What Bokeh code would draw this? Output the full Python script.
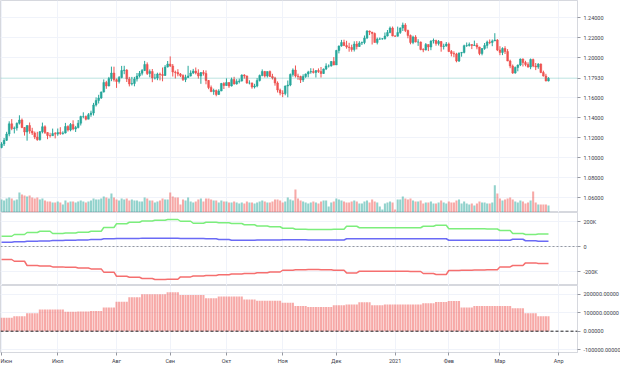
import numpy as np
import pandas as pd
from bokeh.plotting import figure
from bokeh.layouts import column
from bokeh.models import (ColumnDataSource, Range1d, LinearAxis, FixedTicker, Span,
                          NumeralTickFormatter, Grid)
from bokeh.embed import file_html
from bokeh.resources import INLINE

# ---------------- data (EUR/USD daily) ----------------
first_day = "2020-06-01"
last_day = "2021-03-26"

closes = [
    1.1135, 1.1172, 1.1235, 1.1337, 1.1290, 1.1295, 1.1343, 1.1375, 1.1300, 1.1255, 1.1320,
    1.1265, 1.1245, 1.1205, 1.1177, 1.1258, 1.1308, 1.1250, 1.1220, 1.1218, 1.1240, 1.1234,
    1.1250, 1.1240, 1.1245, 1.1310, 1.1275, 1.1330, 1.1285, 1.1300, 1.1343, 1.1410, 1.1410,
    1.1383, 1.1428, 1.1445, 1.1525, 1.1570, 1.1595, 1.1655, 1.1750, 1.1715, 1.1790, 1.1845, 1.1778,
    1.1760, 1.1800, 1.1870, 1.1875, 1.1785, 1.1735, 1.1740, 1.1785, 1.1815, 1.1842, 1.1870,
    1.1930, 1.1840, 1.1860, 1.1795, 1.1795, 1.1835, 1.1830, 1.1820, 1.1905, 1.1935,
    1.1915, 1.1855, 1.1850, 1.1835, 1.1820, 1.1780, 1.1800, 1.1815, 1.1845, 1.1865, 1.1845,
    1.1815, 1.1850, 1.1840, 1.1770, 1.1700, 1.1660, 1.1670, 1.1630, 1.1665, 1.1740, 1.1720,
    1.1750, 1.1715, 1.1780, 1.1735, 1.1760, 1.1765, 1.1825, 1.1815, 1.1745, 1.1745, 1.1705,
    1.1715, 1.1770, 1.1820, 1.1860, 1.1815, 1.1860, 1.1810, 1.1795, 1.1745, 1.1675, 1.1645,
    1.1640, 1.1715, 1.1725, 1.1830, 1.1875, 1.1815, 1.1810, 1.1775, 1.1810, 1.1835, 1.1855,
    1.1860, 1.1850, 1.1870, 1.1860, 1.1840, 1.1885, 1.1915, 1.1915, 1.1960, 1.1925,
    1.2070, 1.2115, 1.2150, 1.2120, 1.2105, 1.2100, 1.2080, 1.2135, 1.2110, 1.2145, 1.2150,
    1.2195, 1.2265, 1.2255, 1.2240, 1.2150, 1.2185, 1.2185, 1.2187, 1.2215, 1.2250, 1.2295, 1.2215,
    1.2213, 1.2250, 1.2295, 1.2325, 1.2270, 1.2220, 1.2150, 1.2205, 1.2155, 1.2155, 1.2080,
    1.2075, 1.2130, 1.2105, 1.2165, 1.2170, 1.2140, 1.2160, 1.2110, 1.2115, 1.2135,
    1.2060, 1.2040, 1.2035, 1.1965, 1.2045, 1.2050, 1.2118, 1.2120, 1.2130, 1.2120,
    1.2125, 1.2105, 1.2040, 1.2090, 1.2120, 1.2155, 1.2150, 1.2165, 1.2175, 1.2075,
    1.2050, 1.2090, 1.2060, 1.1965, 1.1915, 1.1845, 1.1900, 1.1925, 1.1985, 1.1950,
    1.1930, 1.1905, 1.1980, 1.1915, 1.1905, 1.1935, 1.1850, 1.1815, 1.1765, 1.1793,
]
opens = [1.1100] + closes[:-1]
highs = [
    1.1153, 1.1195, 1.1257, 1.1362, 1.1384, 1.1310, 1.1350, 1.1422, 1.1390, 1.1305, 1.1321,
    1.1350, 1.1297, 1.1260, 1.1257, 1.1265, 1.1349, 1.1322, 1.1253, 1.1247, 1.1289, 1.1255,
    1.1290, 1.1303, 1.1262, 1.1346, 1.1322, 1.1345, 1.1372, 1.1316, 1.1375, 1.1418, 1.1452,
    1.1420, 1.1444, 1.1468, 1.1546, 1.1601, 1.1627, 1.1660, 1.1781, 1.1767, 1.1806, 1.1909, 1.1908,
    1.1790, 1.1815, 1.1916, 1.1917, 1.1883, 1.1806, 1.1806, 1.1806, 1.1845, 1.1865, 1.1885,
    1.1966, 1.1951, 1.1881, 1.1885, 1.1837, 1.1848, 1.1849, 1.1900, 1.1924, 1.1965,
    1.2011, 1.1935, 1.1869, 1.1883, 1.1845, 1.1832, 1.1828, 1.1917, 1.1872, 1.1886, 1.1900,
    1.1882, 1.1852, 1.1873, 1.1871, 1.1775, 1.1720, 1.1688, 1.1680, 1.1683, 1.1746, 1.1754,
    1.1791, 1.1752, 1.1799, 1.1807, 1.1783, 1.1789, 1.1831, 1.1833, 1.1820, 1.1772, 1.1750,
    1.1737, 1.1794, 1.1830, 1.1881, 1.1866, 1.1860, 1.1870, 1.1837, 1.1807, 1.1761, 1.1689,
    1.1672, 1.1720, 1.1770, 1.1840, 1.1891, 1.1920, 1.1838, 1.1818, 1.1832, 1.1840, 1.1867,
    1.1893, 1.1891, 1.1871, 1.1891, 1.1905, 1.1890, 1.1942, 1.1931, 1.1965, 1.2004,
    1.2077, 1.2120, 1.2176, 1.2178, 1.2167, 1.2147, 1.2128, 1.2162, 1.2164, 1.2163, 1.2160,
    1.2220, 1.2273, 1.2269, 1.2255, 1.2250, 1.2199, 1.2200, 1.2195, 1.2250, 1.2275, 1.2310, 1.2310,
    1.2222, 1.2309, 1.2301, 1.2349, 1.2343, 1.2279, 1.2230, 1.2218, 1.2223, 1.2183, 1.2160,
    1.2093, 1.2145, 1.2130, 1.2172, 1.2190, 1.2178, 1.2175, 1.2164, 1.2138, 1.2155,
    1.2150, 1.2075, 1.2062, 1.2047, 1.2050, 1.2056, 1.2128, 1.2150, 1.2150, 1.2133,
    1.2169, 1.2145, 1.2107, 1.2093, 1.2145, 1.2169, 1.2180, 1.2180, 1.2243, 1.2184,
    1.2113, 1.2102, 1.2113, 1.2084, 1.1978, 1.1930, 1.1910, 1.1930, 1.1990, 1.1990,
    1.1967, 1.1952, 1.1990, 1.1989, 1.1945, 1.1943, 1.1940, 1.1868, 1.1837, 1.1803,
]
lows = [
    1.1092, 1.1115, 1.1165, 1.1212, 1.1273, 1.1241, 1.1269, 1.1330, 1.1293, 1.1219, 1.1168,
    1.1238, 1.1225, 1.1184, 1.1168, 1.1170, 1.1241, 1.1235, 1.1183, 1.1199, 1.1215, 1.1191,
    1.1217, 1.1226, 1.1228, 1.1240, 1.1260, 1.1262, 1.1272, 1.1255, 1.1291, 1.1320, 1.1392,
    1.1371, 1.1383, 1.1407, 1.1420, 1.1510, 1.1540, 1.1586, 1.1650, 1.1687, 1.1712, 1.1763, 1.1759,
    1.1696, 1.1740, 1.1792, 1.1833, 1.1755, 1.1711, 1.1720, 1.1712, 1.1760, 1.1800, 1.1821,
    1.1864, 1.1825, 1.1802, 1.1753, 1.1780, 1.1773, 1.1771, 1.1762, 1.1816, 1.1900,
    1.1905, 1.1810, 1.1790, 1.1812, 1.1804, 1.1765, 1.1754, 1.1795, 1.1810, 1.1834, 1.1831,
    1.1789, 1.1737, 1.1819, 1.1732, 1.1683, 1.1653, 1.1627, 1.1612, 1.1627, 1.1663, 1.1685,
    1.1716, 1.1696, 1.1710, 1.1730, 1.1729, 1.1741, 1.1760, 1.1789, 1.1737, 1.1731, 1.1688,
    1.1690, 1.1702, 1.1760, 1.1812, 1.1800, 1.1800, 1.1806, 1.1780, 1.1718, 1.1650, 1.1622,
    1.1603, 1.1622, 1.1602, 1.1713, 1.1809, 1.1800, 1.1777, 1.1745, 1.1755, 1.1796, 1.1802,
    1.1838, 1.1840, 1.1800, 1.1846, 1.1800, 1.1835, 1.1874, 1.1900, 1.1909, 1.1923,
    1.1925, 1.2041, 1.2108, 1.2114, 1.2088, 1.2058, 1.2058, 1.2060, 1.2081, 1.2105, 1.2125,
    1.2133, 1.2184, 1.2224, 1.2130, 1.2152, 1.2131, 1.2176, 1.2178, 1.2180, 1.2210, 1.2242, 1.2212,
    1.2205, 1.2210, 1.2236, 1.2265, 1.2254, 1.2192, 1.2132, 1.2133, 1.2151, 1.2116, 1.2072,
    1.2053, 1.2071, 1.2064, 1.2073, 1.2140, 1.2118, 1.2120, 1.2058, 1.2080, 1.2108,
    1.2054, 1.2011, 1.2003, 1.1952, 1.1955, 1.2008, 1.2041, 1.2106, 1.2110, 1.2084,
    1.2117, 1.2082, 1.2023, 1.2022, 1.2077, 1.2091, 1.2133, 1.2113, 1.2165, 1.2064,
    1.2023, 1.2024, 1.2035, 1.1963, 1.1893, 1.1836, 1.1838, 1.1862, 1.1914, 1.1910,
    1.1912, 1.1898, 1.1883, 1.1903, 1.1874, 1.1887, 1.1843, 1.1810, 1.1762, 1.1761,
]
volumes = [
    13, 12, 14, 15, 14, 12, 13, 20, 18, 17, 16, 17, 15, 14, 15, 13, 14, 12, 11, 11, 10, 10,
    11, 10, 8, 12, 10, 11, 11, 10, 11, 12, 11, 10, 11, 12, 14, 13, 13, 14, 16, 15, 14, 19, 15,
    13, 12, 14, 13, 14, 12, 13, 12, 12, 11, 11, 15, 14, 12, 12, 10, 11, 12, 14, 13, 13,
    20, 16, 15, 15, 8, 13, 12, 15, 11, 10, 11, 13, 14, 11, 14, 14, 13, 12, 12, 10, 12, 11,
    11, 10, 10, 11, 10, 9, 10, 9, 11, 10, 10, 9, 10, 11, 12, 11, 10, 10, 11, 13, 13, 12,
    10, 11, 15, 13, 12, 23, 14, 12, 11, 10, 9, 10, 11, 10, 9, 11, 12, 12, 6, 10, 11,
    14, 13, 12, 11, 10, 10, 11, 12, 11, 9, 9, 11, 12, 10, 13, 11, 10, 6, 3, 9, 10, 11, 10,
    3, 13, 13, 16, 14, 13, 14, 12, 11, 11, 12, 9, 10, 10, 11, 9, 9, 10, 12, 10, 9,
    11, 10, 10, 12, 13, 9, 11, 9, 8, 9, 7, 9, 11, 10, 10, 9, 9, 10, 27, 19,
    14, 12, 13, 14, 15, 13, 11, 10, 12, 11, 9, 10, 12, 21, 10, 8, 8, 8, 8, 7,
]

# weekly COT-style indicator values (thousands), one per week starting 2020-06-01
cot_long = [82, 96, 112, 122, 104, 108, 114, 122, 152, 182, 194, 204, 210, 216, 202, 186,
            194, 190, 184, 174, 164, 158, 146, 138, 136, 136, 138, 162, 150, 150, 150, 150,
            150, 162, 170, 142, 142, 142, 140, 128, 104, 96, 100]
cot_mid = [34, 38, 42, 45, 48, 50, 53, 56, 62, 64, 65, 66, 66, 66, 64, 64, 62, 56, 50, 50,
           52, 52, 54, 54, 52, 52, 52, 62, 62, 62, 62, 62, 62, 62, 62, 50, 50, 50, 50, 50,
           58, 46, 42]
cot_short = [-104, -118, -152, -156, -163, -166, -172, -179, -205, -238, -246, -256, -264,
             -262, -243, -236, -232, -226, -220, -216, -210, -204, -190, -186, -184, -186,
             -190, -211, -198, -198, -198, -198, -200, -216, -224, -192, -190, -188, -186,
             -163, -152, -131, -136]
cot_net = [72, 81, 96, 117, 117, 104, 106, 108, 128, 159, 182, 198, 198, 209, 195, 195,
           177, 186, 186, 171, 164, 164, 153, 135, 130, 130, 139, 143, 155, 139, 143, 143,
           143, 150, 157, 162, 128, 135, 135, 135, 123, 96, 81]

month_starts = ["2020-06-01", "2020-07-01", "2020-08-01", "2020-09-01", "2020-10-01",
                "2020-11-01", "2020-12-01", "2021-01-01", "2021-02-01", "2021-03-01",
                "2021-04-01"]
month_labels = ["Июн", "Июл", "Авг", "Сен", "Окт", "Ноя", "Дек", "2021", "Фев", "Мар", "Апр"]
price_ticks = [1.06, 1.08, 1.10, 1.12, 1.14, 1.16, 1.20, 1.22, 1.24]
cot_ticks = [-200000, 0, 200000]
cot_tick_labels = ["-200K", "0", "200K"]
net_ticks = [-100000, 0, 100000, 200000]
last_price = closes[-1]

# ---------------- derived ----------------
dates = pd.bdate_range(first_day, last_day)
n = len(dates)
idx = np.arange(n)
o = np.array(opens)
c = np.array(closes)
h = np.maximum(np.array(highs), np.maximum(o, c))
l = np.minimum(np.array(lows), np.minimum(o, c))
UP = "#26a69a"
DN = "#ef5350"
colors = [UP if cc >= oo else DN for oo, cc in zip(o, c)]

src = ColumnDataSource(dict(x=idx, h=h, l=l, top=np.maximum(o, c), bot=np.minimum(o, c),
                            color=colors, vol=volumes))
week = (dates - dates[0]).days // 7
cot_src = ColumnDataSource(dict(
    x=idx,
    lng=np.array(cot_long)[week] * 1000,
    mid=np.array(cot_mid)[week] * 1000,
    sht=np.array(cot_short)[week] * 1000,
    net=np.array(cot_net)[week] * 1000,
))

axis_days = pd.bdate_range(first_day, "2021-04-30")
month_ticks = [int(np.searchsorted(axis_days, pd.Timestamp(m))) for m in month_starts]

# ---------------- styling ----------------
FW = 577
SEP = "#d6d8de"
GRID = "#f0f3fa"
TXT = "#3c404b"
FONT = "Roboto"
FS = "5.5px"
xr = Range1d(-0.4, 225.35)


def make_fig(fh, yr):
    p = figure(frame_width=FW, frame_height=fh, x_range=xr, y_range=yr,
               x_axis_location=None, y_axis_location=None, toolbar_location=None,
               output_backend="svg", min_border=0, outline_line_color=SEP,
               outline_line_width=1, background_fill_color="white",
               border_fill_color="white")
    for g in p.grid:
        g.visible = False
    p.add_layout(Grid(dimension=0, ticker=FixedTicker(ticks=month_ticks),
                      grid_line_color=GRID, grid_line_width=1))
    return p


def right_axis(p, ticks, formatter=None, overrides=None, grid_ticks=None):
    ax = LinearAxis(ticker=FixedTicker(ticks=ticks))
    if formatter is not None:
        ax.formatter = formatter
    if overrides is not None:
        ax.major_label_overrides = overrides
    ax.axis_line_color = SEP
    ax.major_tick_line_color = "#9598a1"
    ax.major_tick_out = 3
    ax.major_tick_in = 0
    ax.minor_tick_line_color = None
    ax.major_label_standoff = 3
    ax.major_label_text_font = FONT
    ax.major_label_text_font_size = FS
    ax.major_label_text_color = TXT
    p.add_layout(ax, "right")
    p.add_layout(Grid(dimension=1, ticker=FixedTicker(ticks=grid_ticks or ticks),
                      grid_line_color=GRID, grid_line_width=1))
    return ax


# ---------------- main price pane ----------------
p1 = make_fig(212, Range1d(1.045, 1.257))
# the last price is shown on the price scale as its own tick label
price_axis = right_axis(p1, sorted(price_ticks + [last_price]),
                        NumeralTickFormatter(format="0.00000"), grid_ticks=price_ticks)
price_axis.major_label_overrides = {last_price: f"{last_price:.5f}"}
p1.extra_y_ranges = {"vol": Range1d(0, 211)}
p1.vbar(x="x", top="vol", bottom=0, width=0.8, color="color", fill_alpha=0.5,
        line_alpha=0, source=src, y_range_name="vol")
p1.add_layout(Span(location=last_price, dimension="width", line_color=UP,
                   line_alpha=0.3, line_width=1))
p1.segment(x0="x", y0="h", x1="x", y1="l", color="color", line_width=1, source=src)
p1.vbar(x="x", top="top", bottom="bot", width=0.7, fill_color="color",
        line_color="color", line_width=0.5, source=src)

# ---------------- COT pane ----------------
p2 = make_fig(73, Range1d(-312000, 272000))
right_axis(p2, cot_ticks, overrides={t: s for t, s in zip(cot_ticks, cot_tick_labels)})
p2.add_layout(Span(location=0, dimension="width", line_color="#9598a1",
                   line_dash="2 2", line_width=1))
p2.line("x", "lng", source=cot_src, line_color="#7cee7c", line_width=1.5)
p2.line("x", "mid", source=cot_src, line_color="#6a6af5", line_width=1.5)
p2.line("x", "sht", source=cot_src, line_color="#f56f6f", line_width=1.5)

# ---------------- net pane ----------------
p3 = make_fig(67, Range1d(-114500, 245700))
right_axis(p3, net_ticks, NumeralTickFormatter(format="0.00000"))
p3.vbar(x="x", top="net", bottom=0, width=0.8, fill_color=DN, fill_alpha=0.5,
        line_alpha=0, source=cot_src)
p3.add_layout(Span(location=0, dimension="width", line_color="#222222",
                   line_dash="3 2", line_width=1))
xax = LinearAxis(ticker=FixedTicker(ticks=month_ticks),
                 major_label_overrides={t: s for t, s in zip(month_ticks, month_labels)})
xax.axis_line_color = SEP
xax.major_tick_line_color = "#9598a1"
xax.major_tick_out = 3
xax.major_tick_in = 0
xax.minor_tick_line_color = None
xax.major_label_standoff = 2
xax.major_label_text_font = FONT
xax.major_label_text_font_size = FS
xax.major_label_text_color = TXT
p3.add_layout(xax, "below")

layout = column(p1, p2, p3, spacing=0)

open("out.html", "w").write(file_html(layout, INLINE))
